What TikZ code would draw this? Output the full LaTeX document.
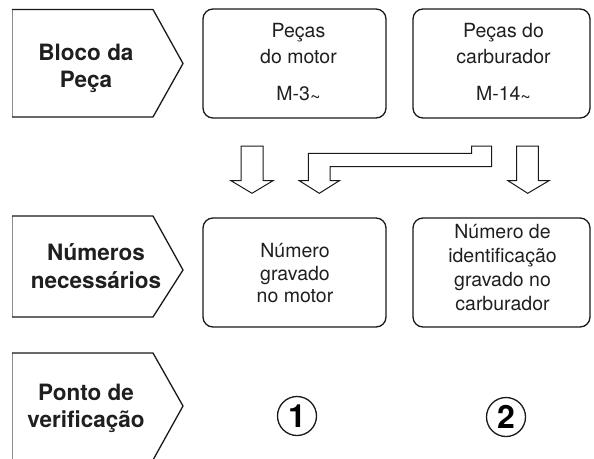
\documentclass[tikz,border=0pt]{standalone}
\usepackage{fontspec}
\setmainfont{TeX Gyre Heros}
\newcommand{\smtilde}{\raisebox{-3pt}{\fontsize{18}{18}\selectfont\textasciitilde}}
\begin{document}
\begin{tikzpicture}[x=1pt,y=-1pt,
  lab/.style={font=\fontsize{22.5}{27.5}\selectfont\bfseries, align=center, inner sep=0pt, text=black!88},
  boxtext/.style={font=\fontsize{19.5}{26}\selectfont, align=center, inner sep=0pt, text=black!88},
  rbox/.style={draw=black!90, line width=1.3pt, rounded corners=10pt, inner sep=0pt, minimum width=183pt, minimum height=109pt},
  rboxb/.style={rbox, minimum width=177pt},
  blockarrow/.style={draw=black!90, line width=1pt, fill=white, line join=miter},
  chev/.style={draw=black!90, line width=1.3pt, line join=miter},
  leftedge/.style={draw=black!45, line width=0.6pt},
  num/.style={circle, draw=black!90, line width=1.3pt, minimum size=39pt, inner sep=0pt, font=\fontsize{32}{32}\selectfont\bfseries}
]
\useasboundingbox (0,0) rectangle (594,458);

% ---- row labels (chevron shapes)
\draw[leftedge] (12,9.5) -- (12,117);
\draw[chev] (12,9.5) -- (153,9.5) -- (183,63.5) -- (153,117) -- (12,117);
\node[lab] (l1) at (86,68.3) {Bloco da\\Peça};

\draw[leftedge] (12,216) -- (12,317);
\draw[chev] (12,216) -- (153,216) -- (183,270) -- (153,317) -- (12,317);
\node[lab] (l2) at (96,266) {Números\\necessários};

\draw[leftedge] (12,353) -- (12,460);
\draw[chev] (12,353) -- (153,353) -- (183,406) -- (153,460);
\node[lab, font=\fontsize{22.5}{27}\selectfont\bfseries] (l3) at (86,408.8) {Ponto de\\verificação};

% ---- row 1 boxes
\node[rbox] (b1) at (294.5,63.5) {};
\node[rboxb] (b2) at (501.5,63.5) {};
\node[boxtext] (t1) at (298.5,63.3) {Peças\\do motor\\[10.5pt]M-3\smtilde};
\node[boxtext] (t2) at (503.5,63.3) {Peças do\\carburador\\[10.5pt]M-14\smtilde};

% ---- block arrows
\draw[blockarrow] (241,146) -- (263,146) -- (263,180.7) -- (273,180.7) -- (252,193.3) -- (231,180.7) -- (241,180.7) -- cycle;
\draw[blockarrow] (516.7,146) -- (538.3,146) -- (538.3,180.7) -- (549,180.7) -- (527.7,193.3) -- (508,180.7) -- (516.7,180.7) -- cycle;
\draw[blockarrow] (491.7,146) -- (471.7,146) -- (471.7,153.3) -- (308.3,153.3) -- (308.3,180.7) -- (299.3,180.7) -- (319.3,193.3) -- (339.3,180.7) -- (330,180.7) -- (330,166.7) -- (491.7,166.7) -- cycle;

% ---- row 2 boxes
\node[rbox] (c1) at (294.5,272.5) {};
\node[rboxb] (c2) at (501.5,272.5) {};
\node[boxtext, font=\fontsize{19.5}{22.5}\selectfont] (u1) at (295,273.2) {Número\\gravado\\no motor};
\node[boxtext, font=\fontsize{19.5}{23.8}\selectfont] (u2) at (502.5,267.7) {Número de\\identificação\\gravado no\\carburador};

% ---- row 3 check points
\node[num] (n1) at (297,416) {1};
\node[num] (n2) at (506,417) {2};
\end{tikzpicture}
\end{document}
